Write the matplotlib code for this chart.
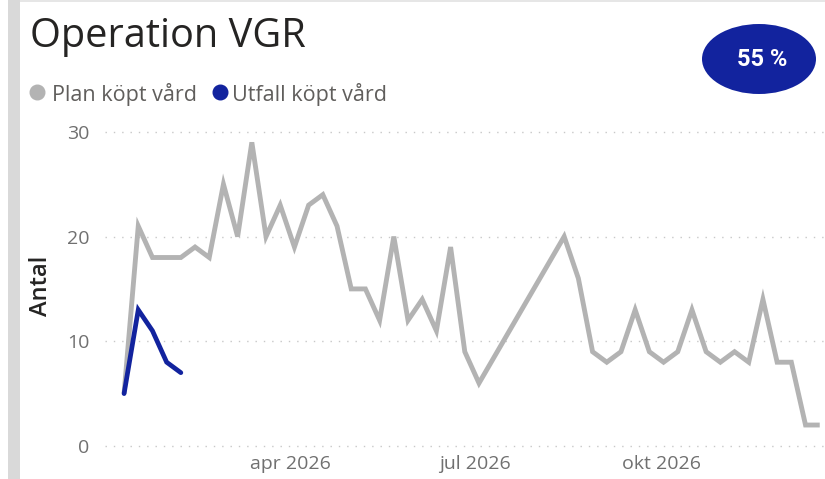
import numpy as np
import pandas as pd
import matplotlib.pyplot as plt
from matplotlib.lines import Line2D
from matplotlib.patches import Ellipse, Rectangle

plt.rcParams['font.family'] = ['Open Sans', 'DejaVu Sans']

# weekly plan (None = no value that week, line runs across)
plan_start = '2026-01-09'
plan = [5, 21, 18, 18, 18, 19, 18, 25, 20, 29, 20, 23, 19, 23, 24, 21, 15, 15, 12, 20,
        12, 14, 11, 19, 9, 6, None, None, None, None, None, 20, 16, 9, 8, 9, 13, 9, 8, 9,
        13, 9, 8, 9, 8, 14, 8, 8, 2, 2]
utfall = [5, 13, 11, 8, 7]
month_ticks = ['2026-04-01', '2026-07-01', '2026-10-01']
month_labels = ['apr 2026', 'jul 2026', 'okt 2026']
y_ticks = [0, 10, 20, 30]
share_text = '55 %'

W, H = 825, 479
fig = plt.figure(figsize=(W / 100, H / 100), dpi=100)
fx = lambda px: px / W
fy = lambda py: 1 - py / H

# frame bits: grey bar on the left and thin line on top
fig.add_artist(Rectangle((fx(8), 0), fx(12), 1, transform=fig.transFigure,
                         color='#d9d9d9', lw=0))
fig.add_artist(Rectangle((fx(20), fy(2)), 1, 2 / H, transform=fig.transFigure,
                         color='#e6e6e6', lw=0))

ax = fig.add_axes([fx(105), fy(451.2), fx(825) - fx(105), fy(121.4) - fy(451.2)])

weeks = pd.date_range(plan_start, periods=len(plan), freq='7D')
s_plan = pd.Series(plan, index=weeks, dtype=float).dropna()
s_utf = pd.Series(utfall, index=weeks[:len(utfall)], dtype=float)

ax.plot(s_plan.index, s_plan.values, color='#b3b3b3', lw=3.5, solid_joinstyle='miter',
        solid_capstyle='butt', zorder=3)
ax.plot(s_utf.index, s_utf.values, color='#12239e', lw=3.4, solid_joinstyle='miter',
        solid_capstyle='round', zorder=4)

x0 = weeks[0] - pd.Timedelta(days=9.4)
ax.set_xlim(x0, x0 + pd.Timedelta(days=355))
ax.set_ylim(-0.5, 31)

ax.set_xticks(pd.to_datetime(month_ticks))
ax.set_xticklabels(month_labels)
ax.set_yticks(y_ticks)
ax.tick_params(length=0, labelsize=14, labelcolor='#707070')
ax.tick_params(axis='y', pad=11)
ax.tick_params(axis='x', pad=3)
for sp in ax.spines.values():
    sp.set_visible(False)
ax.yaxis.grid(True, color='#c8c8c8', linestyle=(0, (1, 5)), lw=1)
ax.set_axisbelow(True)
ax.set_ylabel('Antal', fontsize=17, color='#252423', fontweight='semibold', labelpad=10)

# title
fig.text(fx(30), fy(47), 'Operation VGR', fontsize=28.6, color='#252423', va='baseline')

# legend
for cx, tx, col, lab in [(37, 52, '#b3b3b3', 'Plan köpt vård'),
                         (220, 232, '#12239e', 'Utfall köpt vård')]:
    fig.add_artist(Line2D([fx(cx)], [fy(92)], marker='o', ms=10.5, color=col, mec=col,
                          transform=fig.transFigure))
    fig.text(fx(tx), fy(101), lab, fontsize=15.5, color='#605e5c', va='baseline')

# badge
fig.add_artist(Ellipse((fx(759), fy(59)), 114 / W, 70 / H, transform=fig.transFigure,
                       color='#12239e', lw=0))
fig.text(fx(762), fy(59), share_text, fontsize=17, color='white', fontweight='bold',
         family=['Roboto', 'DejaVu Sans'], ha='center', va='center')

fig.savefig('out.png', dpi=100)
